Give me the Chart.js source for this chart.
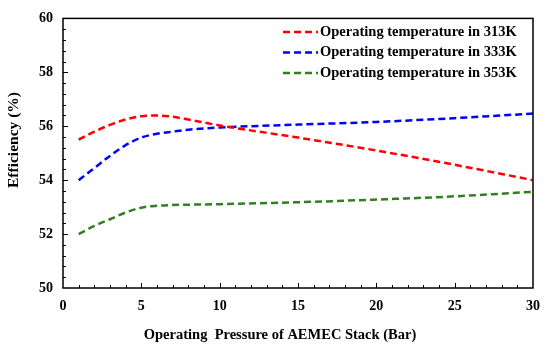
<!DOCTYPE html>
<html lang="en">
<head>
  <meta charset="UTF-8">
  <title>Efficiency vs Pressure</title>
  <script src="https://cdn.jsdelivr.net/npm/chart.js"></script>
  <style>
    html, body {
      margin: 0;
      padding: 0;
      background: #ffffff;
    }
    #wrap {
      width: 550px;
      height: 348px;
    }
  </style>
</head>
<body>
  <div id="wrap"><canvas id="grafico" width="550" height="348"></canvas></div>

  <script>
    const pressure = [1, 2, 3, 4, 5, 6, 7, 8, 10, 15, 20, 25, 30];

    const eff313 = [55.5, 55.8, 56.05, 56.25, 56.37, 56.4, 56.35, 56.25, 56.03, 55.58, 55.1, 54.57, 54.0];
    const eff333 = [54.0, 54.45, 54.9, 55.3, 55.58, 55.72, 55.8, 55.87, 55.95, 56.06, 56.16, 56.3, 56.47];
    const eff353 = [52.0, 52.3, 52.55, 52.8, 52.98, 53.05, 53.08, 53.09, 53.11, 53.18, 53.28, 53.4, 53.57];

    const labels = [
      'Operating temperature in 313K',
      'Operating temperature in 333K',
      'Operating temperature in 353K'
    ];
    const colors = ['#ff0000', '#0000ff', '#31801f'];

    const xTicks = [0, 5, 10, 15, 20, 25, 30];
    const yTicks = [50, 52, 54, 56, 58, 60];

    const serif = "'Liberation Serif', 'Times New Roman', serif";

    function pontos(ys) {
      return pressure.map((p, i) => ({ x: p, y: ys[i] }));
    }

    // inward ticks, frame, legend and axis titles
    const extras = {
      id: 'extras',
      afterDraw(chart) {
        const ctx = chart.ctx;
        const a = chart.chartArea;
        const sx = chart.scales.x, sy = chart.scales.y;
        ctx.save();
        ctx.strokeStyle = '#000';
        ctx.lineWidth = 1.5;
        ctx.strokeRect(a.left, a.top, a.right - a.left, a.bottom - a.top);

        ctx.lineWidth = 1;
        for (let v = 1; v < 30; v++) {
          const px = Math.round(sx.getPixelForValue(v)) + 0.5;
          const len = v % 5 === 0 ? 5 : 3;
          ctx.beginPath();
          ctx.moveTo(px, a.bottom);
          ctx.lineTo(px, a.bottom - len);
          ctx.stroke();
        }
        for (let k = 1; k < 25; k++) {
          const v = 50 + k * 0.4;
          const py = Math.round(sy.getPixelForValue(v)) + 0.5;
          const len = k % 5 === 0 ? 5 : 3;
          ctx.beginPath();
          ctx.moveTo(a.left, py);
          ctx.lineTo(a.left + len, py);
          ctx.stroke();
        }

        // legend
        ctx.font = 'bold 14.5px ' + serif;
        ctx.textBaseline = 'middle';
        ctx.textAlign = 'left';
        chart.data.datasets.forEach((ds, i) => {
          const y = 32 + i * 20.5;
          ctx.strokeStyle = ds.borderColor;
          ctx.lineWidth = 2.5;
          ctx.setLineDash([7, 4]);
          ctx.beginPath();
          ctx.moveTo(283, y);
          ctx.lineTo(318, y);
          ctx.stroke();
          ctx.setLineDash([]);
          ctx.fillStyle = '#000';
          ctx.fillText(ds.label, 320, y);
        });

        // x title
        ctx.font = 'bold 14.5px ' + serif;
        ctx.textAlign = 'center';
        ctx.fillText('Operating  Pressure of AEMEC Stack (Bar)', 280, 335);

        // y title
        ctx.font = 'bold 15.5px ' + serif;
        ctx.translate(14, 140);
        ctx.rotate(-Math.PI / 2);
        ctx.fillText('Efficiency (%)', 0, 0);
        ctx.restore();
      }
    };

    const ctx = document.getElementById('grafico').getContext('2d');
    new Chart(ctx, {
      type: 'line',
      data: {
        datasets: [eff313, eff333, eff353].map((ys, i) => ({
          label: labels[i],
          data: pontos(ys),
          borderColor: colors[i],
          backgroundColor: colors[i],
          borderWidth: 2.5,
          borderDash: [7, 4],
          pointRadius: 0,
          fill: false,
          cubicInterpolationMode: 'monotone'
        }))
      },
      options: {
        responsive: false,
        animation: false,
        layout: { padding: { top: 13, right: 16, left: 0, bottom: 0 } },
        plugins: {
          legend: { display: false },
          tooltip: { enabled: false }
        },
        scales: {
          x: {
            type: 'linear',
            min: 0,
            max: 30,
            afterFit: s => { s.height = 60; },
            afterBuildTicks: s => { s.ticks = xTicks.map(v => ({ value: v })); },
            ticks: {
              padding: 10,
              color: '#000',
              font: { family: serif, size: 14, weight: 'bold' }
            },
            grid: { display: false, drawTicks: false },
            border: { display: false }
          },
          y: {
            min: 50,
            max: 60,
            afterFit: s => { s.width = 63; },
            afterBuildTicks: s => { s.ticks = yTicks.map(v => ({ value: v })); },
            ticks: {
              padding: 10,
              color: '#000',
              font: { family: serif, size: 14, weight: 'bold' }
            },
            grid: { display: false, drawTicks: false },
            border: { display: false }
          }
        }
      },
      plugins: [extras]
    });
  </script>
</body>
</html>
